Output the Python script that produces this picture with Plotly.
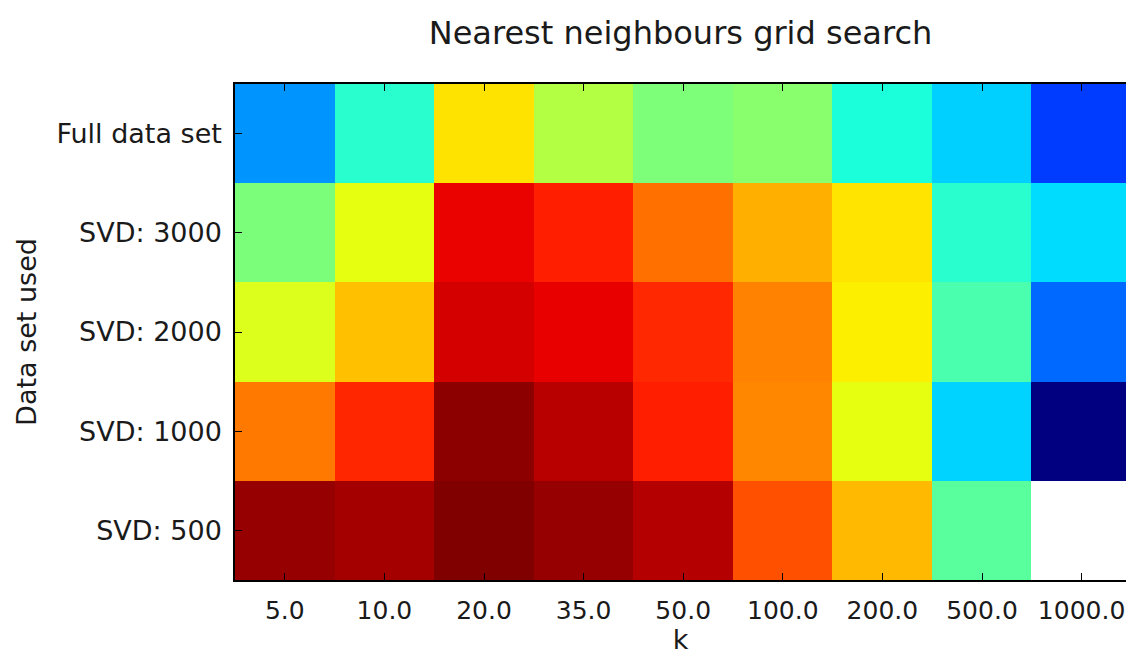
import plotly.graph_objects as go
import numpy as np

# --- data ---
k_labels = ["5.0", "10.0", "20.0", "35.0", "50.0", "100.0", "200.0", "500.0", "1000.0"]
dataset_labels = ["Full data set", "SVD: 3000", "SVD: 2000", "SVD: 1000", "SVD: 500"]

full_data = [0.27, 0.40, 0.67, 0.567, 0.502, 0.518, 0.384, 0.329, 0.184]
svd_3000 = [0.50, 0.63, 0.908, 0.878, 0.791, 0.724, 0.669, 0.40, 0.341]
svd_2000 = [0.617, 0.707, 0.927, 0.910, 0.868, 0.772, 0.656, 0.44, 0.228]
svd_1000 = [0.783, 0.87, 0.989, 0.950, 0.878, 0.767, 0.63, 0.332, 0.0]
svd_500 = [0.98, 0.968, 1.0, 0.98, 0.955, 0.826, 0.714, 0.459, None]

z = [full_data, svd_3000, svd_2000, svd_1000, svd_500]


# matplotlib "jet" colormap as a plotly colorscale
def _seg(x, pts):
    xs = [p[0] for p in pts]
    ys = [p[1] for p in pts]
    return float(np.interp(x, xs, ys))


R = [(0, 0), (0.35, 0), (0.66, 1), (0.89, 1), (1, 0.5)]
G = [(0, 0), (0.125, 0), (0.375, 1), (0.64, 1), (0.91, 0), (1, 0)]
B = [(0, 0.5), (0.11, 1), (0.34, 1), (0.65, 0), (1, 0)]
jet = []
for t in np.linspace(0, 1, 101):
    r, g, b = (_seg(t, R), _seg(t, G), _seg(t, B))
    jet.append([float(t), f"rgb({round(r*255)},{round(g*255)},{round(b*255)})"])

fig = go.Figure(
    go.Heatmap(
        z=z,
        x=list(range(len(k_labels))),
        y=list(range(len(dataset_labels))),
        colorscale=jet,
        zmin=0,
        zmax=1,
        showscale=False,
        hoverongaps=False,
    )
)

W, H = 1126, 655
L, T, Bm = 235, 84, 75
col_w = 99.6
x_right = -0.5 + (W - L) / col_w

font = "DejaVu Sans"
txt = "#1a1a1a"
fig.update_layout(
    width=W,
    height=H,
    margin=dict(l=L, r=0, t=T, b=Bm, pad=0, autoexpand=False),
    paper_bgcolor="white",
    plot_bgcolor="white",
    font=dict(family=font, color="black"),
    title=dict(
        text="Nearest neighbours grid search",
        font=dict(family=font, size=32, color=txt),
        x=0.5,
        xref="paper",
        xanchor="center",
        y=1 - 33 / H,
        yref="container",
        yanchor="middle",
    ),
)

fig.update_xaxes(
    automargin=False,
    range=[-0.5, x_right],
    tickmode="array",
    tickvals=list(range(len(k_labels))),
    ticktext=k_labels,
    ticks="inside",
    ticklen=7,
    tickwidth=1,
    tickcolor="black",
    tickfont=dict(family=font, size=25, color=txt),
    ticklabeloverflow="allow",
    showline=True,
    linecolor="black",
    linewidth=1.5,
    mirror="ticks",
    showgrid=False,
    zeroline=False,
    title=dict(text="k", font=dict(family=font, size=27, color=txt), standoff=17),
    ticklabelstandoff=7,
)

fig.update_yaxes(
    automargin=False,
    range=[4.5, -0.5],
    tickmode="array",
    tickvals=list(range(len(dataset_labels))),
    ticktext=dataset_labels,
    ticks="inside",
    ticklen=7,
    tickwidth=1,
    tickcolor="black",
    tickfont=dict(family=font, size=27, color=txt),
    showline=True,
    linecolor="black",
    linewidth=1.5,
    mirror=False,
    showgrid=False,
    zeroline=False,
    title=dict(text="Data set used", font=dict(family=font, size=27, color=txt), standoff=12),
    ticklabelstandoff=6,
)

fig.write_html("out.html")
